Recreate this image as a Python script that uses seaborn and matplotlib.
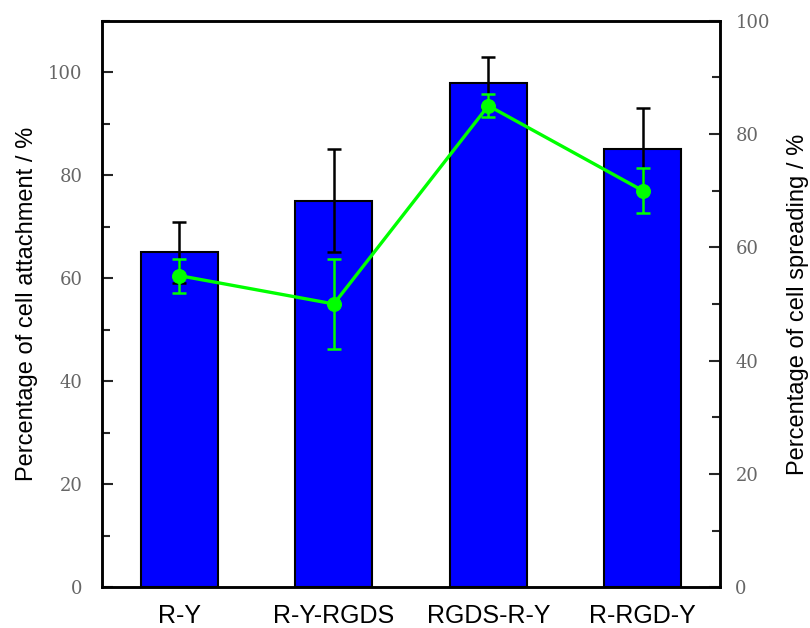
import numpy as np
import pandas as pd
import matplotlib
matplotlib.use("Agg")
import matplotlib.pyplot as plt
import seaborn as sns
from matplotlib.ticker import MultipleLocator, FixedLocator

categories = ["R-Y", "R-Y-RGDS", "RGDS-R-Y", "R-RGD-Y"]
attachment = [65, 75, 98, 85]
attachment_err = [6, 10, 5, 8]
spreading = [55, 50, 85, 70]
spreading_err = [3, 8, 2, 4]

sns.set_style("white")
plt.rcParams["font.family"] = ["Liberation Sans", "DejaVu Sans"]

df = pd.DataFrame({"sample": categories, "attachment": attachment})
pos = np.arange(len(categories))

fig = plt.figure(figsize=(8.1, 6.28), dpi=100)
ax = fig.add_axes([0.126, 0.065, 0.763, 0.902])

sns.barplot(data=df, x="sample", y="attachment", color="#0000ff", saturation=1,
            width=0.5, edgecolor="black", linewidth=1.5, ax=ax, zorder=2)
ax.errorbar(pos, attachment, yerr=attachment_err, fmt="none", ecolor="black",
            elinewidth=1.8, capsize=5, capthick=1.8, zorder=3)
ax.set_xlim(-0.5, 3.5)
ax.set_ylim(0, 110)

ax2 = ax.twinx()
sns.lineplot(x=pos, y=spreading, color="#00ff00", linewidth=2.4, marker="o",
             markersize=10, markeredgecolor="#00ff00", ax=ax2, zorder=4)
ax2.errorbar(pos, spreading, yerr=spreading_err, fmt="none", ecolor="#00ff00",
             elinewidth=1.8, capsize=5, capthick=1.8, zorder=4)
ax2.set_ylim(0, 100)

tick_font = {"family": ["DejaVu Serif"], "size": 13, "color": "#666666"}

ax.set_yticks(np.arange(0, 101, 20))
ax.set_yticklabels([f"{int(t)}" for t in np.arange(0, 101, 20)], fontdict=tick_font)
ax.yaxis.set_minor_locator(MultipleLocator(10))
ax.set_ylim(0, 110)
ax.tick_params(axis="y", which="major", direction="in", length=8, width=1.5, pad=14)
ax.tick_params(axis="y", which="minor", direction="in", length=6, width=1.5)

ax2.set_yticks(np.arange(0, 101, 20))
ax2.set_yticklabels([f"{int(t)}" for t in np.arange(0, 101, 20)], fontdict=tick_font)
ax2.yaxis.set_minor_locator(MultipleLocator(10))
ax2.set_ylim(0, 100)
ax2.tick_params(axis="y", which="major", direction="in", length=8, width=1.5, pad=11)
ax2.tick_params(axis="y", which="minor", direction="in", length=6, width=1.5)

ax.set_xticks(pos)
ax.set_xticklabels(categories, fontsize=18, color="black")
ax.xaxis.set_minor_locator(FixedLocator([0.5, 1.5, 2.5]))
ax.tick_params(axis="x", which="major", length=0, pad=12)
ax.tick_params(axis="x", which="minor", direction="in", length=8, width=1.5)

ax.set_xlabel("")
ax.set_ylabel("Percentage of cell attachment / %", fontsize=17, labelpad=7, color="black")
ax2.set_ylabel("Percentage of cell spreading / %", fontsize=17, labelpad=12, color="black")

for a in (ax, ax2):
    for s in a.spines.values():
        s.set_linewidth(1.8)
        s.set_color("black")

fig.savefig("out.png", dpi=100)
